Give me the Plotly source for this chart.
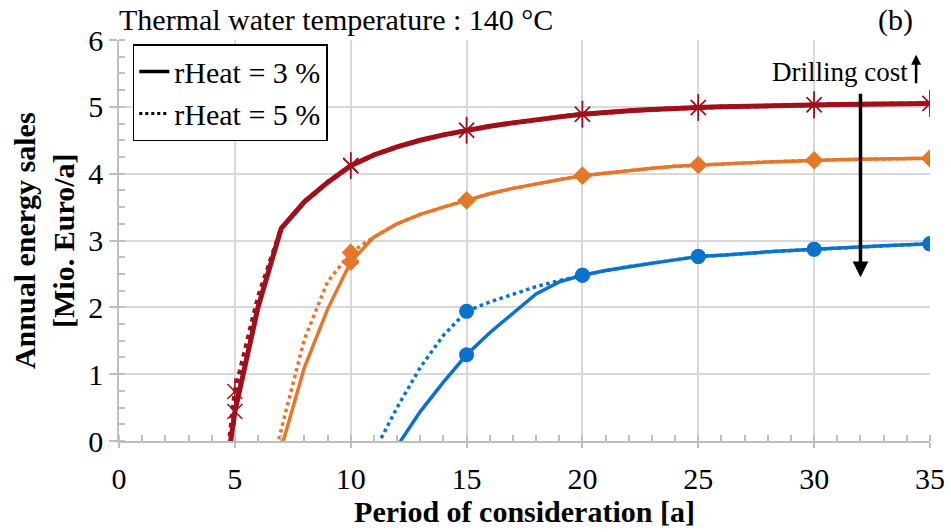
import plotly.graph_objects as go

# ---------------- data ----------------
years = [4, 5, 6, 7, 8, 9, 10, 11, 12, 13, 14, 15, 16, 17, 18, 19, 20,
         21, 22, 23, 24, 25, 26, 27, 28, 29, 30, 31, 32, 33, 34, 35]

red_3 = [-2.0, 0.44, 2.0, 3.18, 3.58, 3.87, 4.12, 4.28, 4.4, 4.5, 4.58, 4.65, 4.71, 4.76, 4.81, 4.85, 4.89,
         4.92, 4.94, 4.96, 4.98, 4.99, 5.0, 5.01, 5.02, 5.025, 5.03, 5.035, 5.04, 5.045, 5.05, 5.05]
red_5 = [-2.34, 0.74, 2.15, 3.18, 3.58, 3.87, 4.12, 4.28, 4.4, 4.5, 4.58, 4.65, 4.71, 4.76, 4.81, 4.85, 4.89,
         4.92, 4.94, 4.96, 4.98, 4.99, 5.0, 5.01, 5.02, 5.025, 5.03, 5.035, 5.04, 5.045, 5.05, 5.05]

orange_3 = [None, None, -1.4, -0.11, 1.1, 1.97, 2.68, 3.05, 3.25, 3.39, 3.5, 3.6, 3.7, 3.78, 3.85, 3.91, 3.97,
            4.01, 4.05, 4.08, 4.11, 4.13, 4.145, 4.16, 4.175, 4.19, 4.2, 4.21, 4.215, 4.22, 4.225, 4.23]
orange_5 = [None, None, -1.3, 0.17, 1.52, 2.38, 2.82, 3.05, 3.25, 3.39, 3.5, 3.6, 3.7, 3.78, 3.85, 3.91, 3.97,
            4.01, 4.05, 4.08, 4.11, 4.13, 4.145, 4.16, 4.175, 4.19, 4.2, 4.21, 4.215, 4.22, 4.225, 4.23]

blue_3 = [None, None, None, None, None, None, None, -0.6, -0.07, 0.44, 0.88, 1.29, 1.62, 1.91, 2.2, 2.38, 2.48,
          2.55, 2.61, 2.66, 2.71, 2.76, 2.78, 2.81, 2.83, 2.85, 2.87, 2.89, 2.9, 2.92, 2.935, 2.95]
blue_5 = [None, None, None, None, None, None, -0.9, -0.17, 0.5, 1.1, 1.58, 1.94, 2.08, 2.2, 2.31, 2.4, 2.48,
          2.55, 2.61, 2.66, 2.71, 2.76, 2.78, 2.81, 2.83, 2.85, 2.87, 2.89, 2.9, 2.92, 2.935, 2.95]

legend_labels = ["rHeat = 3 %", "rHeat = 5 %"]
x_ticks = [0, 5, 10, 15, 20, 25, 30, 35]
y_ticks = [0, 1, 2, 3, 4, 5, 6]

title_text = "Thermal water temperature : 140 °C"
panel_label = "(b)"
arrow_label = "Drilling cost"
x_title = "Period of consideration [a]"
y_title = "Annual energy sales<br>[Mio. Euro/a]"
# arrow positions (data units)
big_arrow_x, big_arrow_top, big_arrow_bottom = 32.0, 5.22, 2.45
small_arrow_x, small_arrow_bottom, small_arrow_top = 34.4, 5.33, 5.78

# ---------------- styling ----------------
FONT = "Liberation Serif, Times New Roman, serif"
FS = 30
RED = "#A0101C"
ORANGE = "#E6762A"
BLUE = "#0A72CC"
GRID = "#D9D9D9"
AXIS = "#BFBFBF"


def marker_points(vals):
    xs, ys = [], []
    for x, y in zip(years, vals):
        if y is not None and y >= 0 and x % 5 == 0:
            xs.append(x)
            ys.append(y)
    return xs, ys


fig = go.Figure()

series = [
    (red_3, red_5, RED, 5, 4.5, "star"),
    (orange_3, orange_5, ORANGE, 3.5, 3.5, "diamond"),
    (blue_3, blue_5, BLUE, 3.5, 3.5, "circle"),
]

for v3, v5, col, w3, w5, sym in series:
    fig.add_trace(go.Scatter(x=years, y=v5, mode="lines",
                             line=dict(color=col, width=w5, dash="dot"),
                             showlegend=False, hoverinfo="skip"))
    fig.add_trace(go.Scatter(x=years, y=v3, mode="lines",
                             line=dict(color=col, width=w3),
                             showlegend=False))
    for vals in (v5, v3):
        mx, my = marker_points(vals)
        if sym == "star":
            fig.add_trace(go.Scatter(x=mx, y=my, mode="markers", showlegend=False,
                                     marker=dict(symbol="x-thin-open", size=15, color=col,
                                                 line=dict(color=col, width=1.5))))
            fig.add_trace(go.Scatter(x=mx, y=my, mode="markers", showlegend=False,
                                     marker=dict(symbol="line-ns-open", size=19, color=col,
                                                 line=dict(color=col, width=1.5))))
        elif sym == "diamond":
            fig.add_trace(go.Scatter(x=mx, y=my, mode="markers", showlegend=False,
                                     marker=dict(symbol="diamond", size=14, color=col)))
        else:
            fig.add_trace(go.Scatter(x=mx, y=my, mode="markers", showlegend=False,
                                     marker=dict(symbol="circle", size=15, color=col)))

# legend entries (black samples)
fig.add_trace(go.Scatter(x=[None], y=[None], mode="lines", name=legend_labels[0],
                         line=dict(color="black", width=3.5)))
fig.add_trace(go.Scatter(x=[None], y=[None], mode="lines", name=legend_labels[1],
                         line=dict(color="black", width=3, dash="dot")))

fig.update_layout(
    width=951, height=532,
    margin=dict(l=119, r=21, t=40, b=91),
    paper_bgcolor="white", plot_bgcolor="white",
    font=dict(family=FONT, size=FS, color="black"),
    showlegend=True,
    legend=dict(x=0.017, y=0.99, xanchor="left", yanchor="top",
                bgcolor="white", bordercolor="black", borderwidth=1.5,
                font=dict(family=FONT, size=FS), tracegroupgap=0,
                itemwidth=30),
    xaxis=dict(range=[0, 35], tickvals=x_ticks, showgrid=True, gridcolor=GRID, gridwidth=1.5,
               showline=True, linecolor=AXIS, linewidth=1.5, zeroline=False, automargin=False,
               ticks="outside", ticklen=5, tickcolor=AXIS, tickwidth=1.5,
               ticklabelstandoff=5,
               minor=dict(dtick=1, ticks="inside", ticklen=6, tickcolor=AXIS, showgrid=False),
               tickfont=dict(family=FONT, size=FS),
               title=dict(text="<b>" + x_title + "</b>",
                          font=dict(family=FONT, size=FS), standoff=4)),
    yaxis=dict(range=[0, 6], tickvals=y_ticks, showgrid=True, gridcolor=GRID, gridwidth=1.5,
               showline=True, linecolor=AXIS, linewidth=1.5, zeroline=False, automargin=False,
               ticks="outside", ticklen=8, tickcolor=AXIS, tickwidth=1.5,
               ticklabelstandoff=0,
               minor=dict(dtick=0.25, ticks="inside", ticklen=6, tickcolor=AXIS, showgrid=False),
               tickfont=dict(family=FONT, size=FS)),
)

fig.add_annotation(xref="paper", yref="paper", x=-0.093, y=0.5, xanchor="center", yanchor="middle",
                   text="<b>" + y_title + "</b>", textangle=-90, showarrow=False,
                   font=dict(family=FONT, size=FS))
fig.add_annotation(xref="paper", yref="paper", x=-0.003, y=1.05, xanchor="left", yanchor="middle",
                   text=title_text, showarrow=False, font=dict(family=FONT, size=FS))
fig.add_annotation(xref="paper", yref="paper", x=0.957, y=1.05, xanchor="center", yanchor="middle",
                   text=panel_label, showarrow=False, font=dict(family=FONT, size=FS))
fig.add_annotation(xref="x", yref="y", x=31.1, y=5.52, xanchor="center", yanchor="middle",
                   text=arrow_label, showarrow=False, font=dict(family=FONT, size=27))
fig.add_annotation(xref="x", yref="y", axref="x", ayref="y",
                   x=big_arrow_x, y=big_arrow_bottom, ax=big_arrow_x, ay=big_arrow_top,
                   text="", showarrow=True, arrowhead=2, arrowsize=0.9, arrowwidth=3.5, arrowcolor="black")
fig.add_annotation(xref="x", yref="y", axref="x", ayref="y",
                   x=small_arrow_x, y=small_arrow_top, ax=small_arrow_x, ay=small_arrow_bottom,
                   text="", showarrow=True, arrowhead=2, arrowsize=0.8, arrowwidth=2.5, arrowcolor="black")

fig.write_html("out.html")
